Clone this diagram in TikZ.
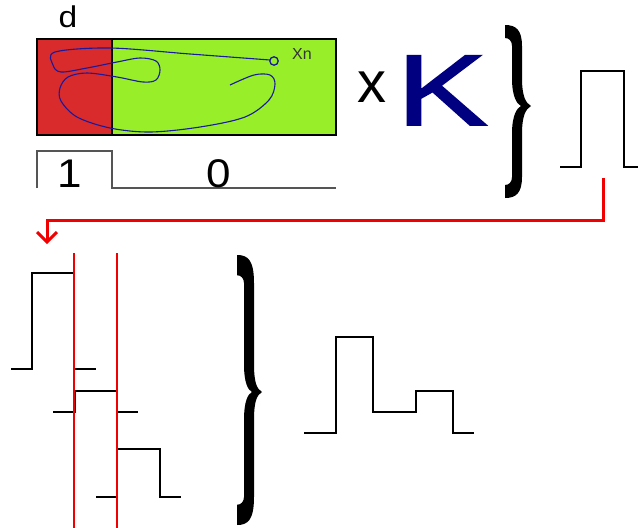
\documentclass[tikz,border=0pt]{standalone}
\usepackage{fontspec}
\setmainfont{Liberation Sans}
\newfontfamily\kfont[FakeBold=1.5]{Liberation Sans}
\definecolor{rred}{RGB}{217,43,43}
\definecolor{rgreen}{RGB}{153,238,42}
\definecolor{cblue}{RGB}{25,25,160}
\definecolor{knavy}{RGB}{0,0,128}
\definecolor{bargray}{RGB}{85,85,85}
\definecolor{arrred}{RGB}{240,0,0}
\newcommand\mybrace[5]{% x0, xtip, ytop, ymid, ybot
  \pgfmathsetmacro\bL{#1+7}\pgfmathsetmacro\bR{#1+17}%
  \pgfmathsetmacro\bN{#2-10}\pgfmathsetmacro\bh{0.075*(#5-#3)}%
  \fill[black] (#1,#3) .. controls ({#1+11},#3) and (\bR,{#3+5}) .. (\bR,{#3+\bh+8})
   -- (\bR,{#4-28}) .. controls (\bR,{#4-9}) and ({#2-5},{#4-3}) .. (#2,#4)
   .. controls ({#2-5},{#4+3}) and (\bR,{#4+9}) .. (\bR,{#4+28})
   -- (\bR,{#5-\bh-8}) .. controls (\bR,{#5-5}) and ({#1+11},#5) .. (#1,#5)
   -- (#1,{#5-\bh}) .. controls ({#1+4},{#5-\bh}) and (\bL,{#5-\bh-3}) .. (\bL,{#5-\bh-8})
   -- (\bL,{#4+28}) .. controls (\bL,{#4+9}) and ({\bN-4},{#4+2}) .. (\bN,#4)
   .. controls ({\bN-4},{#4-2}) and (\bL,{#4-9}) .. (\bL,{#4-28})
   -- (\bL,{#3+\bh+8}) .. controls (\bL,{#3+\bh+3}) and ({#1+4},{#3+\bh}) .. (#1,{#3+\bh}) -- cycle;}
\begin{document}
\begin{tikzpicture}[x=1pt,y=-1pt,
  pulse/.style={draw=black,line width=2.2pt},
  redline/.style={draw=arrred,line width=1.1pt},
  bar/.style={draw=bargray,line width=1.4pt}]
\useasboundingbox (0,0) rectangle (638,528);
% state box
\fill[rred] (37,39) rectangle (112,135);
\fill[rgreen] (112,39) rectangle (336,135);
\draw[line width=1.5pt] (37,39) rectangle (336,135);
\draw[line width=1.3pt] (112,39) -- (112,135);
% trajectory
\draw[cblue,line width=1.1pt] plot[smooth,tension=0.55] coordinates {
 (270,60) (190,54) (110,48) (55,52) (53,65) (61,72) (87,68) (117,62) (140,58) (156,61) (160,70) (156,80) (143,82) (117,77) (87,73) (68,77) (60,88) (61,101) (77,117) (110,128) (150,132) (200,127) (245,117) (269,100) (275,84) (270,75) (254,75) (230,85)};
\draw[cblue,line width=1.3pt] (274,61) circle (4.2);
\node[anchor=base,inner sep=0,text=black!80] (xn) at (302,59) {\fontsize{16}{16}\selectfont Xn};
\node[anchor=base,inner sep=0] (dlab) at (68,27) {\scalebox{1.12}[1]{\fontsize{30}{30}\selectfont d}};
% 1/0 bar
\draw[bar] (37,188) -- (37,151) -- (112,151) -- (112,188) -- (336,188);
\node[anchor=base,inner sep=0] (one) at (70,187) {\scalebox{1.1}[1]{\fontsize{40}{40}\selectfont 1}};
\node[anchor=base,inner sep=0] (zero) at (219,187) {\scalebox{1.1}[1]{\fontsize{40}{40}\selectfont 0}};
% x K
\node[anchor=base,inner sep=0] (times) at (372,102) {\fontsize{58}{58}\selectfont x};
\node[anchor=base,inner sep=0,text=knavy] (K) at (442,125) {\scalebox{1.35}[1]{\kfont\fontsize{101}{101}\selectfont K}};
% braces
\mybrace{505}{531}{25}{106}{198}
\mybrace{237}{262}{255}{392}{525}
% top right pulse
\draw[pulse] (560,167) -- (581,167) -- (581,71) -- (624,71) -- (624,167) -- (638,167);
% red arrow
\coordinate (as) at (603,178);
\coordinate (ac) at (603,220);
\coordinate (ad) at (47,220);
\coordinate (ae) at (47,242);
\draw[arrred,line width=3pt] (as) -- (ac) -- (ad) -- (ae);
\draw[arrred,line width=3pt] (37,232) -- (ae) -- (57,232);
% stacked pulses
\draw[pulse] (11,369) -- (32,369) -- (32,273) -- (74,273) -- (74,369) -- (96,369);
\draw[pulse] (53,412) -- (75,412) -- (75,391) -- (117,391) -- (117,412) -- (138,412);
\draw[pulse] (96,497) -- (117,497) -- (117,449) -- (160,449) -- (160,497) -- (181,497);
\draw[redline] (74,253) -- (74,528);
\draw[redline] (117,253) -- (117,528);
% sum pulse
\draw[pulse] (304,433) -- (336,433) -- (336,337) -- (373,337) -- (373,412) -- (416,412) -- (416,391) -- (453,391) -- (453,433) -- (474,433);
\end{tikzpicture}
\end{document}
